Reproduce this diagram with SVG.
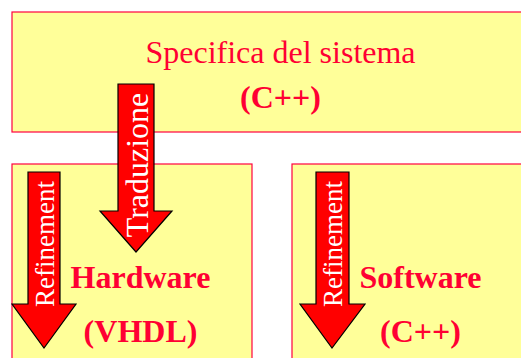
<svg xmlns="http://www.w3.org/2000/svg" width="521" height="358" viewBox="0 0 521 358">
<style>
.box{fill:#FFFF99;stroke:#FF0040;stroke-width:1.2}
.t{font-family:"Liberation Serif","Times New Roman",serif;fill:#FF0033;text-anchor:middle;font-size:32px}
.b{font-weight:bold}
.arr{fill:#FF0000;stroke:#000;stroke-width:1.2;stroke-linejoin:miter}
.at{font-family:"Liberation Serif","Times New Roman",serif;fill:#fff;text-anchor:middle}
</style>
<rect width="521" height="358" fill="#fff"/>
<g id="spec">
<rect class="box" x="12" y="12" width="540" height="120"/>
<text class="t" x="280.5" y="63">Specifica del sistema</text>
<text class="t b" x="280.5" y="108">(C++)</text>
</g>
<g id="hardware">
<rect class="box" x="12" y="164" width="240" height="210"/>
<text class="t b" x="140.5" y="288">Hardware</text>
<text class="t b" x="140.5" y="342">(VHDL)</text>
</g>
<g id="software">
<rect class="box" x="292" y="164" width="250" height="210"/>
<text class="t b" x="420.5" y="288">Software</text>
<text class="t b" x="420.5" y="342">(C++)</text>
</g>
<g id="connectors">
<g id="traduzione">
<polygon class="arr" points="118,84 154,84 154,211 172,211 136,252 100,211 118,211"/>
<text class="at" font-size="32" transform="translate(148,165) rotate(-90)">Traduzione</text>
</g>
<g id="refinement-hw">
<polygon class="arr" points="28,172 60,172 60,304 76,304 44,348 12,304 28,304"/>
<text class="at" font-size="27" transform="translate(54,244) rotate(-90)">Refinement</text>
</g>
<g id="refinement-sw">
<polygon class="arr" points="316,172 349,172 349,304 365,304 332,348 300,304 316,304"/>
<text class="at" font-size="27" transform="translate(342,244) rotate(-90)">Refinement</text>
</g>
</g>
</svg>
